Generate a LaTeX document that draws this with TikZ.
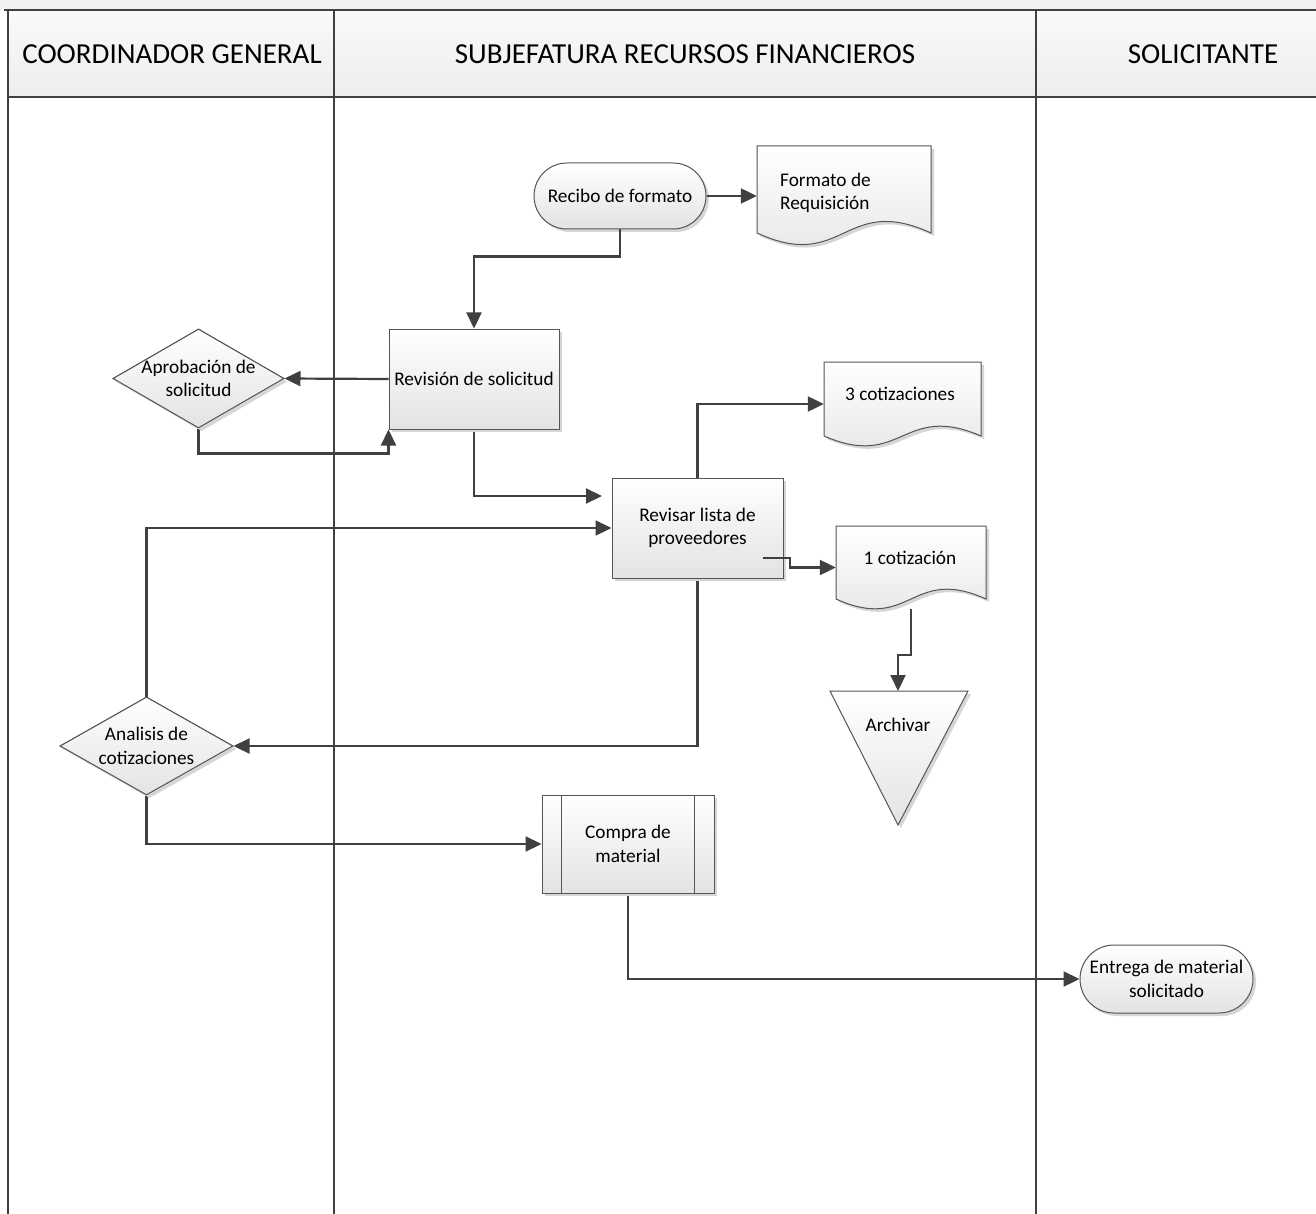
\documentclass[tikz,border=0pt]{standalone}
\usepackage{fontspec}
\setmainfont{Carlito}
\usetikzlibrary{shapes.geometric,shadows,arrows.meta,calc}
\definecolor{linec}{HTML}{404040}
\definecolor{bord}{HTML}{555555}
\newcommand\nodetxt{\fontsize{19.3}{23.5}\selectfont}
\newcommand\hdrtxt{\fontsize{29}{34}\selectfont}
\begin{document}
\begin{tikzpicture}[x=1pt,y=-1pt,
  lane/.style={draw=linec, line width=2pt},
  conn/.style={draw=linec, line width=2.2pt, -{Triangle[length=16pt,width=15pt]}},
  shad/.style={drop shadow={shadow xshift=3pt,shadow yshift=-3pt,fill=black!16,opacity=1}},
  shp/.style={draw=bord, line width=1pt, top color=white, bottom color=black!11, shad},
  box/.style={shp, rectangle, font=\nodetxt, align=center, inner sep=1pt},
  term/.style={box, rounded corners=33pt, minimum width=172pt, minimum height=66pt},
  dia/.style={box, diamond, inner sep=0pt},
  anch/.style={rectangle, draw=none, inner sep=0pt},
  txt/.style={font=\nodetxt, align=center, inner sep=0pt}
]
\useasboundingbox (0,0) rectangle (1316,1214);
\fill[white] (0,0) rectangle (1316,1214);
% header
\fill[black!5] (0,0) rectangle (1316,10);
\shade[top color=black!2, bottom color=black!7] (8,10) rectangle (1316,97);
\draw[lane] (4,10) -- (1316,10);
\draw[lane] (8,97) -- (1316,97);
\draw[lane] (8,10) -- (8,1214);
\draw[lane] (334,10) -- (334,1214);
\draw[lane] (1036,10) -- (1036,1214);
\node[font=\hdrtxt, inner sep=0pt] (h1) at (172,54) {COORDINADOR GENERAL};
\node[font=\hdrtxt, inner sep=0pt] (h2) at (685,54) {SUBJEFATURA RECURSOS FINANCIEROS};
\node[font=\hdrtxt, inner sep=0pt] (h3) at (1203,54) {SOLICITANTE};

% anchor nodes for documents / triangle
\node[anch, minimum width=174pt, minimum height=99pt] (fr) at (844,195.5) {};
\node[anch, minimum width=157pt, minimum height=84pt] (cot3) at (902.5,404) {};
\node[anch, minimum width=150pt, minimum height=83pt] (cot1) at (911,567.5) {};
\coordinate (archtop) at (898,691);
\coordinate (c1) at (602,496);
\coordinate (c2) at (763,558);

% process nodes
\node[term] (rec) at (620,196) {Recibo de formato};
\node[box, minimum width=170pt, minimum height=100pt] (rev) at (474,379) {Revisión de solicitud};
\node[dia, minimum width=171pt, minimum height=99pt] (apr) at (198.5,378.5) {};
\node[box, minimum width=171pt, minimum height=100pt] (prov) at (697.5,528) {Revisar lista de\\proveedores};
\node[dia, minimum width=173pt, minimum height=98pt] (ana) at (146.5,746) {};
\node[box, minimum width=172pt, minimum height=98pt] (comp) at (628,844) {};
\node[term, rounded corners=34pt, minimum width=173pt, minimum height=68pt] (ent) at (1166.5,979) {Entrega de material\\solicitado};

% connectors (under shapes)
\draw[conn] (rec.east) -- (rec.east -| fr.west);
\draw[conn] (rec.south) -- ++(0,27) -| (rev.north);
\draw[conn] (rev.west) -- (apr.east);
\draw[conn] (apr.south) -- ++(0,25) -| (rev.south west);
\draw[conn] (rev.south) |- (c1);
\draw[conn] (ana.north) |- (prov.west);
\draw[conn] (prov.north) |- (cot3.west);
\draw[conn] (cot1.south) -- ++(0,46) -| (archtop);
\draw[conn] (prov.south) |- (ana.east);
\draw[conn] (ana.south) |- (comp.west);
\draw[conn] (comp.south) |- (ent.west);

% redraw shapes on top
\node[box, minimum width=170pt, minimum height=100pt] at (rev) {Revisión de solicitud};
\node[dia, minimum width=171pt, minimum height=99pt] at (apr) {};
\node[txt] (aprt) at (apr) {Aprobación de\\solicitud};
\node[box, minimum width=171pt, minimum height=100pt] at (prov) {Revisar lista de\\proveedores};
\node[dia, minimum width=173pt, minimum height=98pt] at (ana) {};
\node[txt] (anat) at (ana) {Analisis de\\cotizaciones};
\node[box, minimum width=172pt, minimum height=98pt] at (comp) {};
\draw[draw=bord, line width=1pt] ($(comp.north west)+(20,0)$) -- ($(comp.south west)+(20,0)$);
\draw[draw=bord, line width=1pt] ($(comp.north east)+(-20,0)$) -- ($(comp.south east)+(-20,0)$);
\node[txt] (compt) at (comp) {Compra de\\material};

% documents
\path[shp] (757,146) -- (931,146) -- (931,233) .. controls (844,193) and (844,273) .. (757,233) -- cycle;
\node[txt, align=left, anchor=west] (frt) at (780,193) {Formato de\\Requisición};
\path[shp] (824,362) -- (981,362) -- (981,436) .. controls (902.5,402) and (902.5,470) .. (824,436) -- cycle;
\node[txt] (cot3t) at (900,394) {3 cotizaciones};
\path[shp] (836,526) -- (986,526) -- (986,599) .. controls (911,565) and (911,633) .. (836,599) -- cycle;
\node[txt] (cot1t) at (910,558) {1 cotización};
% archivar
\path[shp] (830,691) -- (968,691) -- (898,825) -- cycle;
\node[txt] (archt) at (898,725) {Archivar};

% connector starting inside the box
\draw[conn] (c2) -- ++(27,0) |- (cot1.west);
\end{tikzpicture}
\end{document}
